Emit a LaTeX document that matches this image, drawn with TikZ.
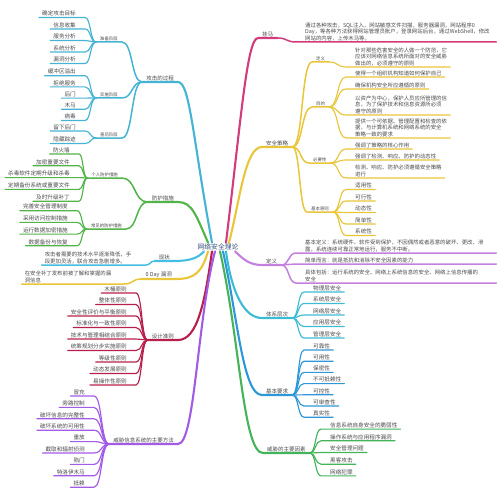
\documentclass[tikz,border=0pt]{standalone}
\usepackage{fontspec}
\setmainfont{Noto Sans CJK SC}
\usetikzlibrary{calc}
\definecolor{txtc}{HTML}{4A4A4A}
\definecolor{rootc}{HTML}{33507A}
\definecolor{cPink}{HTML}{D23C7C}
\definecolor{cYel}{HTML}{E9C53A}
\definecolor{cVio}{HTML}{C47FDF}
\definecolor{cCyan}{HTML}{3CBCD4}
\definecolor{cBlue}{HTML}{2E97D8}
\definecolor{cGrn}{HTML}{44B35A}
\definecolor{cTeal}{HTML}{45B3D3}
\definecolor{cGrnB}{HTML}{52B448}
\definecolor{cSky}{HTML}{45BEE2}
\definecolor{cCrim}{HTML}{B8204C}
\definecolor{cPur}{HTML}{A15BE6}
\newcommand\rcon[4][6]{\draw[#2] let \p1=(#3.south east), \p2=([xshift=-#1pt]#4.south west), \n1={(\x2-\x1)*0.55} in (\p1) .. controls +(\n1,0) and +(-\n1,0) .. (\p2) -- (#4.south east);}
\newcommand\lcon[4][6]{\draw[#2] let \p1=(#3.south west), \p2=([xshift=#1pt]#4.south east), \n1={(\x1-\x2)*0.55} in (\p1) .. controls +(-\n1,0) and +(\n1,0) .. (\p2) -- (#4.south west);}
\begin{document}
\begin{tikzpicture}[x=1pt,y=-1pt,
  txtbase/.style={inner xsep=3pt,inner ysep=1.1pt,text=txtc},
  L1/.style={txtbase,inner xsep=4pt,font=\fontsize{5.5}{6.3}\selectfont},
  L2/.style={txtbase,inner xsep=4pt,font=\fontsize{4.4}{5}\selectfont},
  leaf/.style={txtbase,font=\fontsize{5.6}{6.3}\selectfont},
  para/.style={txtbase,align=left,font=\fontsize{5.4}{6.3}\selectfont},
  R/.style={anchor=south west},
  Lf/.style={anchor=south east},
  wA/.style={line width=2.1pt,line cap=round},
  wB/.style={line width=1.5pt,line cap=round},
  wC/.style={line width=1.15pt,line cap=round}]
\useasboundingbox (0,0) rectangle (500,500);

\node[font=\fontsize{6.8}{8}\selectfont,text=rootc,inner sep=1pt] (root) at (218,247) {网络安全理论};

% ---------- right side ----------
\node[L1,R] (gm) at (258,38) {挂马};
\node[para,R,text width=188pt] (gmp) at (302,42) {通过各种攻击，SQL注入，网站敏感文件扫描，服务器漏洞，网站程序0\\Day，等各种方法获得网站管理员账户，登录网站后台，通过WebShell，修改\\网站的内容，上传木马等。};
\rcon{cPink,wB}{gm}{gmp}

\node[L1,R] (aq) at (262,147) {安全策略};
\node[L2,R] (aq1) at (312,62) {定义};
\node[L2,R] (aq2) at (312,107) {目的};
\node[L2,R] (aq3) at (309,163) {必要性};
\node[L2,R] (aq4) at (307,212) {基本原则};
\foreach \nd in {aq1,aq2,aq3,aq4}{\rcon[0]{cYel,wB}{aq}{\nd}}
\node[para,R] (aq1p) at (352,67) {针对那些危害安全的人做一个防范，它\\应该对网络信息系统所面对的安全威胁\\做出的，必须遵守的原则};
\rcon{cYel,wC}{aq1}{aq1p}
\node[para,R] (aq21) at (352,77) {使得一个组织机构知道如何保护自己};
\node[para,R] (aq22) at (352,89) {确保机构安全所应遵循的原则};
\node[para,R] (aq23) at (352,115) {以资产为中心，保护人员应所管理的信\\息，为了保护技术和信息资源所必须\\遵守的原则};
\node[para,R] (aq24) at (352,138) {提供一个可依据、管理配置和检查的依\\据，与计算机系统和网络系统的安全\\策略一致的要求};
\foreach \nd in {aq21,aq22,aq23,aq24}{\rcon{cYel,wC}{aq2}{\nd}}
\node[para,R] (aq31) at (352,149) {强调了策略的核心作用};
\node[para,R] (aq32) at (352,160) {强调了检测、响应、防护的动态性};
\node[para,R] (aq33) at (352,178) {检测、响应、防护必须遵循安全策略\\进行};
\foreach \nd in {aq31,aq32,aq33}{\rcon{cYel,wC}{aq3}{\nd}}
\foreach \lbl [count=\i] in {适用性,可行性,动态性,简单性,系统性}{
  \node[leaf,R] (aq4-\i) at (352,{178+11.5*\i}) {\lbl};
  \rcon{cYel,wC}{aq4}{aq4-\i}}

\node[L1,R] (dy) at (262,265) {定义};
\node[para,R,text width=188pt] (dy1) at (302,253) {基本定义：系统硬件、软件受到保护，不因偶然或者恶意的破坏、更改、泄\\露，系统连续可靠正常地运行，服务不中断。};
\node[para,R,text width=188pt] (dy2) at (302,264) {简单而言：就是抵抗和消除不安全因素的能力};
\node[para,R,text width=188pt] (dy3) at (302,283) {具体包括：运行系统的安全、网络上系统信息的安全、网络上信息传播的\\安全};
\foreach \nd in {dy1,dy2,dy3}{\rcon{cVio,wB}{dy}{\nd}}

\node[L1,R] (tx) at (262,318) {体系层次};
\foreach \lbl [count=\i] in {物理层安全,系统层安全,网络层安全,应用层安全,管理层安全}{
  \node[leaf,R] (tx-\i) at (310,{280.5+11.5*\i}) {\lbl};
  \rcon{cCyan,wC}{tx}{tx-\i}}

\node[L1,R] (jb) at (262,395) {基本要求};
\foreach \lbl [count=\i] in {可靠性,可用性,保密性,不可抵赖性,可控性,可审查性,真实性}{
  \node[leaf,R] (jb-\i) at (310,{338.8+11.2*\i}) {\lbl};
  \rcon{cBlue,wC}{jb}{jb-\i}}

\node[L1,R] (ys) at (263,453) {威胁的主要因素};
\foreach \lbl [count=\i] in {信息系统自身安全的脆弱性,操作系统与应用程序漏洞,安全管理问题,黑客攻击,网络犯罪}{
  \node[leaf,R] (ys-\i) at (327,{417.4+11.7*\i}) {\lbl};
  \rcon{cGrn,wC}{ys}{ys-\i}}

% ---------- left side ----------
\node[L1,Lf] (gj) at (178,82) {攻击的过程};
\node[L2,Lf] (gj1) at (122,42) {准备阶段};
\node[L2,Lf] (gj2) at (122,98) {实施阶段};
\node[L2,Lf] (gj3) at (122,138) {善后阶段};
\foreach \nd in {gj1,gj2,gj3}{\lcon[0]{cTeal,wB}{gj}{\nd}}
\foreach \lbl [count=\i] in {确定攻击目标,信息收集,服务分析,系统分析,漏洞分析}{
  \node[leaf,Lf] (gj1-\i) at (79,{6+11.5*\i}) {\lbl};
  \lcon{cTeal,wC}{gj1}{gj1-\i}}
\foreach \lbl [count=\i] in {缓冲区溢出,拒绝服务,后门,木马,病毒}{
  \node[leaf,Lf] (gj2-\i) at (79,{64.5+11.2*\i}) {\lbl};
  \lcon{cTeal,wC}{gj2}{gj2-\i}}
\foreach \lbl [count=\i] in {留下后门,隐藏踪迹}{
  \node[leaf,Lf] (gj3-\i) at (79,{118.5+12.5*\i}) {\lbl};
  \lcon{cTeal,wC}{gj3}{gj3-\i}}

\node[L1,Lf] (fh) at (178,202) {防护措施};
\node[L2,Lf] (fh1) at (122,178) {个人防护措施};
\node[L2,Lf] (fh2) at (126,229) {常见的防护措施};
\foreach \nd in {fh1,fh2}{\lcon[0]{cGrnB,wB}{fh}{\nd}}
\foreach \lbl [count=\i] in {防火墙,加密重要文件,杀毒软件定期升级和杀毒,定期备份系统或重要文件,及时升级补丁}{
  \node[leaf,Lf] (fh1-\i) at (73,{142.2+11.8*\i}) {\lbl};
  \lcon{cGrnB,wC}{fh1}{fh1-\i}}
\foreach \lbl [count=\i] in {完善安全管理制度,采用访问控制措施,运行数据加密措施,数据备份与恢复}{
  \node[leaf,Lf] (fh2-\i) at (71,{199+11.7*\i}) {\lbl};
  \lcon{cGrnB,wC}{fh2}{fh2-\i}}

\node[L1,Lf] (xz) at (174,261) {现状};
\node[para,Lf,text width=92pt] (xzp) at (140,265) {攻击者需要的技术水平逐渐降低，手\\段更加灵活，联合攻击急剧增多。};
\lcon{cSky,wB}{xz}{xzp}

\node[L1,Lf] (od) at (176,279) {0 Day 漏洞};
\node[para,Lf,text width=90pt] (odp) at (118,284) {在安全补丁发布前被了解和掌握的漏\\洞信息};
\lcon{cYel,wB}{od}{odp}

\node[L1,Lf] (dj) at (178,340) {设计准则};
\foreach \lbl [count=\i] in {木桶原则,整体性原则,安全性评价与平衡原则,标准化与一致性原则,技术与管理相结合原则,统筹规划分步实施原则,等级性原则,动态发展原则,易操作性原则}{
  \node[leaf,Lf] (dj-\i) at (130,{281.5+11.5*\i}) {\lbl};
  \lcon{cCrim,wC}{dj}{dj-\i}}

\node[L1,Lf] (wf) at (178,444) {威胁信息系统的主要方法};
\foreach \lbl [count=\i] in {冒充,旁路控制,破坏信息的完整性,破坏系统的可用性,重放,截取和辐射侦测,陷门,特洛伊木马,抵赖}{
  \node[leaf,Lf] (wf-\i) at (88,{384.6+11.4*\i}) {\lbl};
  \lcon{cPur,wC}{wf}{wf-\i}}

% ---------- main branches from root ----------
\draw[cPink,wA] ([xshift=8pt]root.north) .. controls (241,120) and (247,38) .. (gm.south west) -- (gm.south east);
\draw[cYel,wA] ([xshift=11pt]root.north) .. controls (240,200) and (245,147) .. (aq.south west) -- (aq.south east);
\draw[cTeal,wA] ([xshift=-6pt]root.north) .. controls (193,140) and (190,82) .. (gj.south east) -- (gj.south west);
\draw[cGrnB,wA] ([xshift=-10pt]root.north) .. controls (196,215) and (192,202) .. (fh.south east) -- (fh.south west);
\draw[cSky,wA] ([xshift=-14pt]root.south) .. controls (198,258) and (190,261) .. (xz.south east) -- (xz.south west);
\draw[cYel,wA] ([xshift=-10pt]root.south) .. controls (202,272) and (195,279) .. (od.south east) -- (od.south west);
\draw[cCrim,wA] ([xshift=-6pt]root.south) .. controls (205,300) and (198,340) .. (dj.south east) -- (dj.south west);
\draw[cPur,wA] ([xshift=-3pt]root.south) .. controls (197,320) and (195,444) .. (wf.south east) -- (wf.south west);
\draw[cGrn,wA] ([xshift=2pt]root.south) .. controls (240,340) and (243,453) .. (ys.south west) -- (ys.south east);
\draw[cBlue,wA] ([xshift=5pt]root.south) .. controls (238,320) and (243,395) .. (jb.south west) -- (jb.south east);
\draw[cCyan,wA] ([xshift=8pt]root.south) .. controls (232,295) and (245,318) .. (tx.south west) -- (tx.south east);
\draw[cVio,wA] ([xshift=17pt]root.south) .. controls (244,260) and (250,265) .. (dy.south west) -- (dy.south east);
\end{tikzpicture}
\end{document}
